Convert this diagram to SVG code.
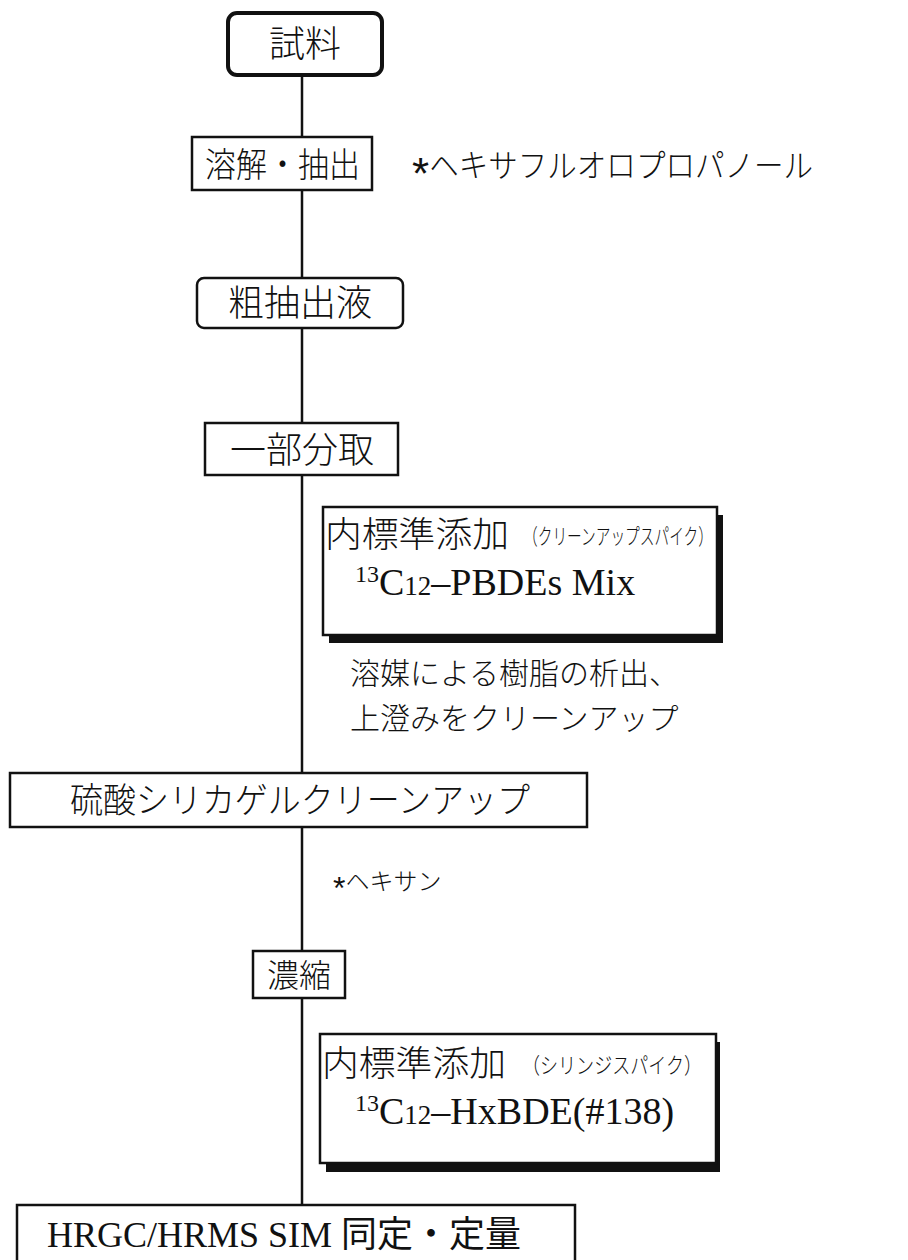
<svg xmlns="http://www.w3.org/2000/svg" width="908" height="1260" viewBox="0 0 908 1260">
<defs>
<style>
.jp{font-family:"Noto Sans CJK JP","Noto Sans CJK SC",sans-serif;fill:#111;font-weight:300;}
.se{font-family:"Liberation Serif","Noto Sans CJK JP",serif;fill:#111;}
.star{font-family:"Liberation Sans",sans-serif;font-weight:400;}
.box{fill:#fff;stroke:#111;stroke-width:2.5;}
.thick{fill:#fff;stroke:#111;stroke-width:4;}
.shadow{fill:#111;}
.line{stroke:#111;stroke-width:2.5;fill:none;}
</style>
</defs>
<rect width="908" height="1260" fill="#fff"/>
<g id="connectors">
<line class="line" x1="302" y1="75" x2="302" y2="1205"/>
</g>
<g id="n1">
<rect class="thick" x="228" y="13" width="154" height="62" rx="9"/>
<text class="jp" x="305" y="57" font-size="36" text-anchor="middle">試料</text>
</g>
<g id="n2">
<rect class="box" x="192" y="137" width="180" height="53"/>
<text class="jp" x="205" y="177" font-size="34" textLength="155" lengthAdjust="spacingAndGlyphs">溶解・抽出</text>
<text class="jp" x="412" y="177" font-size="32"><tspan class="star" font-size="44" dy="12">*</tspan><tspan dy="-12" textLength="384" lengthAdjust="spacingAndGlyphs">ヘキサフルオロプロパノール</tspan></text>
</g>
<g id="n3">
<rect class="box" x="197" y="278" width="206" height="50" rx="7"/>
<text class="jp" x="300" y="316" font-size="36" text-anchor="middle">粗抽出液</text>
</g>
<g id="n4">
<rect class="box" x="205" y="423" width="193" height="52"/>
<text class="jp" x="302" y="463" font-size="36" text-anchor="middle">一部分取</text>
</g>
<g id="n5">
<rect class="shadow" x="329" y="515" width="394" height="128"/>
<rect class="box" x="323" y="507" width="394" height="128"/>
<text class="jp" x="325" y="547" font-size="35" textLength="184" lengthAdjust="spacingAndGlyphs">内標準添加</text>
<text class="jp" x="523" y="544" font-size="22" textLength="190" lengthAdjust="spacingAndGlyphs">（クリーンアップスパイク）</text>
<text class="se" x="355" y="595" font-size="38"><tspan font-size="24" dy="-13">13</tspan><tspan dy="13">C</tspan><tspan font-size="27">12</tspan>–PBDEs Mix</text>
</g>
<g id="note1">
<text class="jp" x="350" y="684" font-size="30">溶媒による樹脂の析出、</text>
<text class="jp" x="350" y="729" font-size="30">上澄みをクリーンアップ</text>
</g>
<g id="n6">
<rect class="box" x="10" y="773" width="577" height="54"/>
<text class="jp" x="70" y="813" font-size="35" textLength="460" lengthAdjust="spacingAndGlyphs">硫酸シリカゲルクリーンアップ</text>
</g>
<g id="note2">
<text class="jp" x="333" y="890" font-size="24"><tspan class="star" font-size="32" dy="9">*</tspan><tspan dy="-9">ヘキサン</tspan></text>
</g>
<g id="n7">
<rect class="box" x="253" y="951" width="92" height="47"/>
<text class="jp" x="299" y="987" font-size="32" text-anchor="middle">濃縮</text>
</g>
<g id="n8">
<rect class="shadow" x="326" y="1042" width="394" height="130"/>
<rect class="box" x="320" y="1034" width="396" height="129"/>
<text class="jp" x="322" y="1076" font-size="35" textLength="184" lengthAdjust="spacingAndGlyphs">内標準添加</text>
<text class="jp" x="522" y="1073" font-size="22" textLength="180" lengthAdjust="spacingAndGlyphs">（シリンジスパイク）</text>
<text class="se" x="355" y="1124" font-size="38"><tspan font-size="24" dy="-13">13</tspan><tspan dy="13">C</tspan><tspan font-size="27">12</tspan>–HxBDE(#138)</text>
</g>
<g id="n9">
<rect class="box" x="17" y="1205" width="558" height="70"/>
<text class="se" x="284" y="1247" font-size="36" text-anchor="middle">HRGC/HRMS SIM <tspan font-family="Noto Sans CJK JP, sans-serif">同定・定量</tspan></text>
</g>
</svg>
